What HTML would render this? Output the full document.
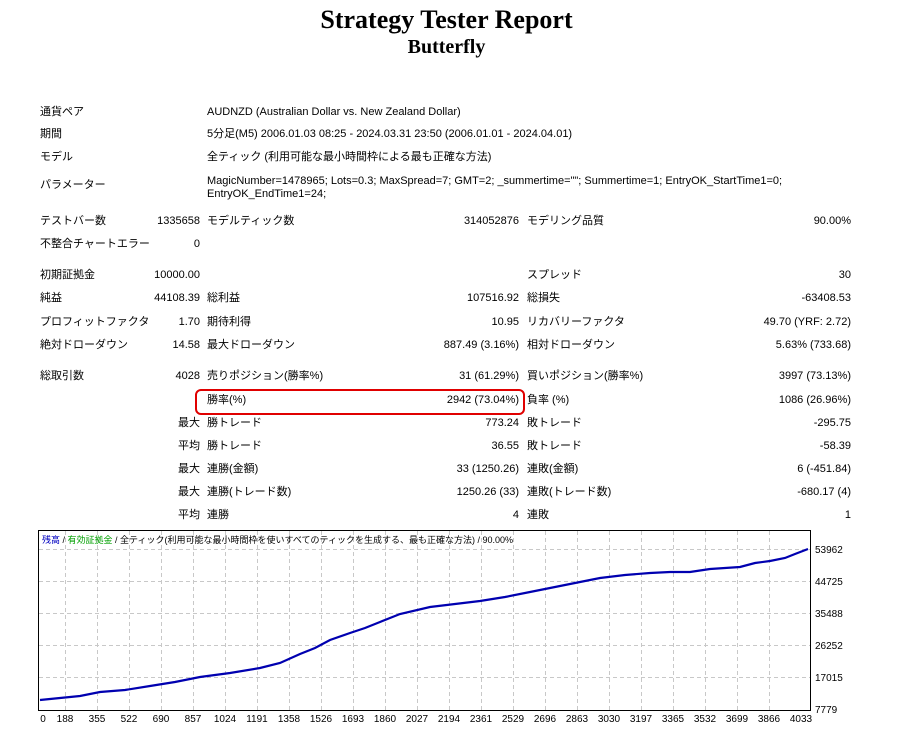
<!DOCTYPE html>
<html><head><meta charset="utf-8">
<style>
body{margin:0;width:899px;height:732px;background:#fff;position:relative;overflow:hidden;font-family:"Liberation Sans","Noto Sans CJK JP",sans-serif;font-size:11px;color:#000}
.t{position:absolute;white-space:nowrap;line-height:14px}
.r{text-align:right}
h1{position:absolute;left:0;width:893px;top:5px;margin:0;text-align:center;font-family:"Liberation Serif","Noto Serif CJK SC",serif;font-weight:bold;font-size:26px}
h2{position:absolute;left:0;width:893px;top:36px;margin:0;text-align:center;font-family:"Liberation Serif","Noto Serif CJK SC",serif;font-weight:bold;font-size:20px}
</style></head><body>
<h1>Strategy Tester Report</h1>
<h2>Butterfly</h2>
<div id="c"></div>
<div style="position:absolute;left:195px;top:389px;width:326px;height:22px;border:2px solid #e00000;border-radius:6px"></div>
<script>
var rows=[
[105,"通貨ペア","","AUDNZD (Australian Dollar vs. New Zealand Dollar)"],
[127,"期間","","5分足(M5) 2006.01.03 08:25 - 2024.03.31 23:50 (2006.01.01 - 2024.04.01)"],
[150,"モデル","","全ティック (利用可能な最小時間枠による最も正確な方法)"],
[174,"","","MagicNumber=1478965; Lots=0.3; MaxSpread=7; GMT=2; _summertime=\"\"; Summertime=1; EntryOK_StartTime1=0;"],
[187,"","","EntryOK_EndTime1=24;"]];
var h="";
function T(x,y,s,cls,w){h+='<div class="t'+(cls?' '+cls:'')+'" style="left:'+x+'px;top:'+y+'px'+(w?';width:'+w+'px':'')+'">'+s.replace(/</g,'&lt;')+'</div>';}
rows.forEach(function(r){if(r[1])T(40,r[0],r[1]);T(207,r[0],r[3]);});
T(40,178,"パラメーター");
function R(y,a,b,c,d,e,f){if(a)T(40,y,a);if(b)T(100,y,b,"r",100);if(c)T(207,y,c);if(d)T(300,y,d,"r",219);if(e)T(527,y,e);if(f)T(650,y,f,"r",201);}
R(214,"テストバー数","1335658","モデルティック数","314052876","モデリング品質","90.00%");
R(237,"不整合チャートエラー","0");
R(268,"初期証拠金","10000.00","","","スプレッド","30");
R(291,"純益","44108.39","総利益","107516.92","総損失","-63408.53");
R(315,"プロフィットファクタ","1.70","期待利得","10.95","リカバリーファクタ","49.70 (YRF: 2.72)");
R(338,"絶対ドローダウン","14.58","最大ドローダウン","887.49 (3.16%)","相対ドローダウン","5.63% (733.68)");
R(369,"総取引数","4028","売りポジション(勝率%)","31 (61.29%)","買いポジション(勝率%)","3997 (73.13%)");
R(393,"","","勝率(%)","2942 (73.04%)","負率 (%)","1086 (26.96%)");
R(416,"","最大","勝トレード","773.24","敗トレード","-295.75");
R(439,"","平均","勝トレード","36.55","敗トレード","-58.39");
R(462,"","最大","連勝(金額)","33 (1250.26)","連敗(金額)","6 (-451.84)");
R(485,"","最大","連勝(トレード数)","1250.26 (33)","連敗(トレード数)","-680.17 (4)");
R(508,"","平均","連勝","4","連敗","1");
document.getElementById("c").innerHTML=h;
</script>
<svg style="position:absolute;left:0;top:0" width="899" height="732" font-family="Liberation Sans, Noto Sans CJK JP, sans-serif" font-size="10">
<rect x="38.5" y="530.5" width="772" height="180" fill="#fff" stroke="#000"/>
<g stroke="#c8c8c8" stroke-dasharray="4,3">
<line x1="39" x2="810" y1="549.5" y2="549.5"/><line x1="39" x2="810" y1="581.5" y2="581.5"/><line x1="39" x2="810" y1="613.5" y2="613.5"/><line x1="39" x2="810" y1="645.5" y2="645.5"/><line x1="39" x2="810" y1="677.5" y2="677.5"/>
</g>
<g id="vg" stroke="#c8c8c8" stroke-dasharray="4,3"></g>
<polyline fill="none" stroke="#0000b0" stroke-width="2.2" points="40,700 60,698 80,696 100,692 125,690 150,686 175,682 200,677 230,673 260,668 280,663 300,654 315,648 330,640 350,633 365,628 380,622 400,614 430,607 455,604 480,601 505,597 530,592 545,589 560,586 580,582 600,578 625,575 650,573 670,572 690,572 710,569 725,568 740,567 755,563 770,561 785,558 795,554 808,549"/>
<g text-anchor="start" fill="#000">
<text x="815" y="553">53962</text><text x="815" y="585">44725</text><text x="815" y="617">35488</text><text x="815" y="649">26252</text><text x="815" y="681">17015</text><text x="815" y="713">7779</text>
</g>
<g id="xl" text-anchor="middle"></g>
<text x="42" y="543" font-size="9"><tspan fill="#0000c0">残高</tspan> / <tspan fill="#00a000">有効証拠金</tspan> / 全ティック(利用可能な最小時間枠を使いすべてのティックを生成する、最も正確な方法) / 90.00%</text>
</svg>
<script>
var vg="",xl="",labs=[0,188,355,522,690,857,1024,1191,1358,1526,1693,1860,2027,2194,2361,2529,2696,2863,3030,3197,3365,3532,3699,3866,4033];
for(var i=0;i<labs.length;i++){var x=i==0?43:65+(i-1)*32;
if(i>0&&i<labs.length-1)vg+='<line x1="'+(x+0.5)+'" x2="'+(x+0.5)+'" y1="531" y2="710"/>';
xl+='<text x="'+(i==0?43:x)+'" y="722">'+labs[i]+'</text>';}
document.getElementById("vg").innerHTML=vg;document.getElementById("xl").innerHTML=xl;
</script>
</body></html>
